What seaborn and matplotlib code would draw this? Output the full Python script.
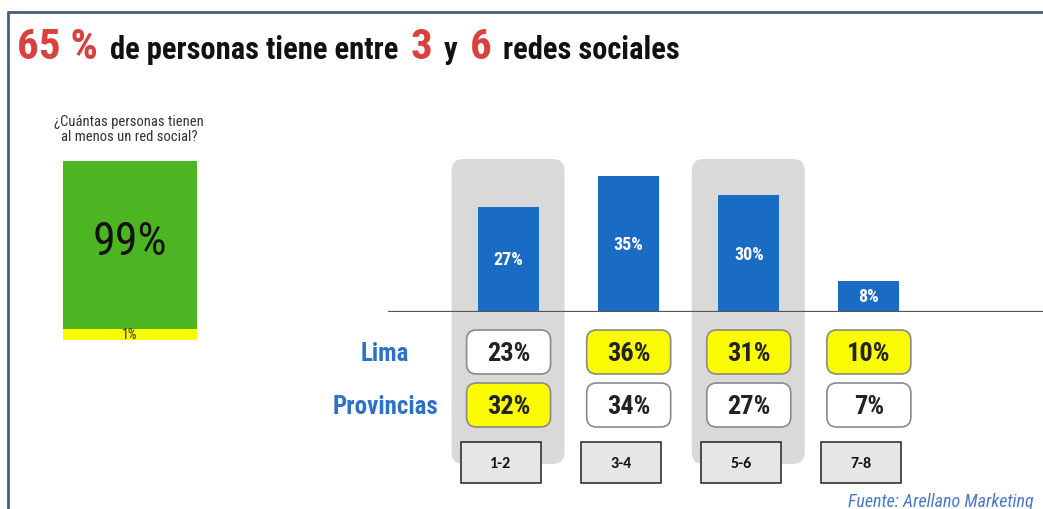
import matplotlib
matplotlib.use('Agg')
import matplotlib.pyplot as plt
import seaborn as sns
import numpy as np
import pandas as pd
from matplotlib import font_manager
from matplotlib.patches import FancyBboxPatch, Rectangle
from matplotlib.lines import Line2D

# --- datos ---
grupos = ['1-2', '3-4', '5-6', '7-8']
total = [27, 35, 30, 8]
lima = [23, 36, 31, 10]
provincias = [32, 34, 27, 7]
regiones = ['Lima', 'Provincias']
tiene_red = 99
sin_red = 1
resaltados = [0, 2]  # columnas con fondo gris

AZUL = '#1a6bc4'
AZUL_TXT = '#2d71c8'
ROJO = '#d9413f'
VERDE = '#4db521'
AMARILLO = '#fafa00'
GRIS = '#d9d9d9'

W, H = 1043, 510
sns.set_theme(style='white')
names = {f.name for f in font_manager.fontManager.ttflist}
candidatas = ['Nimbus Sans Narrow', 'Liberation Sans Narrow', 'Arial Narrow', 'Roboto Condensed',
              'Archivo Narrow', 'PT Sans Narrow', 'Fira Sans Condensed',
              'IBM Plex Sans Condensed', 'Barlow Semi Condensed']
NARROW = next((n for n in candidatas if n in names), 'DejaVu Sans')
plt.rcParams['font.family'] = [NARROW, 'DejaVu Sans']
CALIBRI = next((n for n in ['Carlito', 'Lato'] if n in names), 'DejaVu Sans')

fig = plt.figure(figsize=(W / 100, H / 100), dpi=100)
fig.patch.set_facecolor('white')


def fx(px):
    return px / W


def fy(px):
    return 1 - px / H


# capa de fondo en pixeles
bg = fig.add_axes([0, 0, 1, 1], zorder=0)
bg.set_xlim(0, W)
bg.set_ylim(H, 0)
bg.axis('off')

# --- barras principales ---
PX_POR_PCT = 3.9
y_top = 42
ax = fig.add_axes([fx(388), fy(313), 1 - fx(388), y_top * PX_POR_PCT / H], zorder=2)
ax.patch.set_alpha(0)
df_bar = pd.DataFrame({'grupo': grupos, 'pct': total})
sns.barplot(data=df_bar, x='grupo', y='pct', order=grupos, color=AZUL,
            saturation=1, width=0.51, linewidth=0, ax=ax)
ax.set_xlim(-1.004, 4.45)
ax.set_ylim(0, y_top)
ax.bar_label(ax.containers[0], labels=[f'{v}%' for v in total], label_type='center',
             color='white', fontsize=13, weight='bold')
ax.axhline(0, color='#555555', lw=1.6)
for s in ax.spines.values():
    s.set_visible(False)
ax.set_xticks([])
ax.set_yticks([])
ax.set_xlabel('')
ax.set_ylabel('')

cx = [ax.transData.transform((i, 0))[0] for i in range(len(grupos))]

# fondos grises redondeados
for i in resaltados:
    bg.add_patch(FancyBboxPatch((cx[i] - 57, 160), 113, 305,
                                boxstyle='round,pad=0,rounding_size=12',
                                fc=GRIS, ec='none'))

# cajas Lima / Provincias
filas_y = [353, 406]
for r, (nombre, valores) in enumerate(zip(regiones, [lima, provincias])):
    y = filas_y[r]
    bg.text(385, y + 1, nombre, ha='center', va='center', color=AZUL_TXT,
            fontsize=18, weight='bold')
    for i, v in enumerate(valores):
        mayor = v == max(lima[i], provincias[i])
        bg.add_patch(FancyBboxPatch((cx[i] - 42, y - 22), 84, 44,
                                    boxstyle='round,pad=0,rounding_size=10',
                                    fc=AMARILLO if mayor else 'white',
                                    ec='#8a8a8a', lw=1.2))
        bg.text(cx[i], y + 1, f'{v}%', ha='center', va='center', color='#222222',
                fontsize=19, weight='bold')

# cajas de categorias
for i, g in enumerate(grupos):
    bg.add_patch(Rectangle((cx[i] - 48, 443), 80, 41, fc='#e6e6e6', ec='#222222', lw=1.1))
    bg.text(cx[i] - 8, 464, g, ha='center', va='center', fontsize=11.5, weight='bold',
            family=[CALIBRI, 'DejaVu Sans'], color='#111111')

# --- panel izquierdo ---
axl = fig.add_axes([fx(63), fy(341), fx(197 - 63), (341 - 162) / H], zorder=2)
df_l = pd.DataFrame({'k': ['x'], 'v': [tiene_red + sin_red]})
sns.barplot(data=df_l, x='k', y='v', color=VERDE, saturation=1, width=1, linewidth=0, ax=axl)
# la franja amarilla se engrosa con el borde para que se vea
sns.barplot(data=pd.DataFrame({'k': ['x'], 'v': [sin_red]}), x='k', y='v',
            color=AMARILLO, saturation=1, width=1, ax=axl,
            edgecolor=AMARILLO, linewidth=13)
axl.set_xlim(-0.5, 0.5)
axl.set_ylim(0, tiene_red + sin_red)
axl.axis('off')
axl.annotate(f'{tiene_red}%', (0, sin_red + tiene_red / 2), xytext=(0, 6),
             textcoords='offset points', ha='center', va='center', fontsize=33,
             color='#111111')
axl.annotate(f'{sin_red}%', (0, 0), xytext=(0, 4.5), textcoords='offset points',
             ha='center', va='center', fontsize=10, color='#333333')
fig.text(fx(129), fy(122), '¿Cuántas personas tienen', ha='center', va='center',
         fontsize=10.5, color='#333333')
fig.text(fx(129), fy(137), 'al menos un red social?', ha='center', va='center',
         fontsize=10.5, color='#333333')

# --- titulo ---
renderer = fig.canvas.get_renderer()
piezas = [('65 %', ROJO, 31), ('de personas tiene entre', '#111111', 22), ('3', ROJO, 31),
          ('y', '#111111', 22), ('6', ROJO, 31), ('redes sociales', '#111111', 22)]
x = 17
for txt, color, size in piezas:
    t = fig.text(fx(x), fy(59), txt, color=color, fontsize=size, weight='bold',
                 ha='left', va='baseline')
    x = t.get_window_extent(renderer).x1 + 12

fig.text(fx(848), fy(502), 'Fuente: Arellano Marketing', style='italic', color='#4a78c8',
         fontsize=13, ha='left', va='center')

# marco
fig.add_artist(Line2D([fx(8), 1], [fy(13), fy(13)], transform=fig.transFigure,
                      color='#4d5d78', lw=2))
fig.add_artist(Line2D([fx(8), fx(8)], [fy(13), 0], transform=fig.transFigure,
                      color='#4d5d78', lw=2))

fig.savefig('out.png', dpi=100)
